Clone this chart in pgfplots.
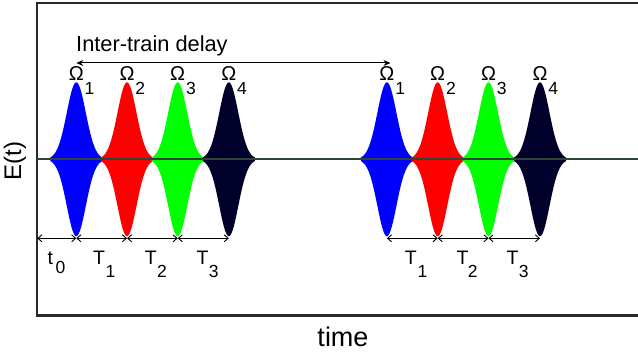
\documentclass[border=0pt]{standalone}
\usepackage{pgfplots}
\pgfplotsset{compat=1.18}
\usepackage{pgfplotstable}
\usepackage{fontspec}
\setmainfont{Liberation Sans}
\usetikzlibrary{arrows.meta}
\definecolor{navyp}{RGB}{0,0,42}
\definecolor{framec}{RGB}{42,42,42}
\definecolor{basec}{RGB}{45,68,55}
\definecolor{greenp}{RGB}{0,255,0}

\pgfplotstableread{
dx A
-26 1.82
-25 2.41
-24 3.16
-23 4.10
-22 5.27
-21 6.69
-20 8.40
-19 10.42
-18 12.79
-17 15.53
-16 18.64
-15 22.14
-14 25.99
-13 30.19
-12 34.67
-11 39.39
-10 44.25
-9 49.16
-8 54.01
-7 58.69
-6 63.08
-5 67.04
-4 70.47
-3 73.26
-2 75.31
-1 76.57
0 77.00
1 76.57
2 75.31
3 73.26
4 70.47
5 67.04
6 63.08
7 58.69
8 54.01
9 49.16
10 44.25
11 39.39
12 34.67
13 30.19
14 25.99
15 22.14
16 18.64
17 15.53
18 12.79
19 10.42
20 8.40
21 6.69
22 5.27
23 4.10
24 3.16
25 2.41
26 1.82
}\pulse

\newcommand{\pulseat}[2]{%
\addplot[fill=#2, draw=none] table[x expr=\thisrow{dx}+#1, y=A]{\pulse} \closedcycle;
\addplot[fill=#2, draw=none] table[x expr=\thisrow{dx}+#1, y expr=-\thisrow{A}]{\pulse} \closedcycle;
}
\newcommand{\omlab}[2]{%
\node[anchor=base, inner sep=0pt, font=\fontsize{20}{20}\selectfont] at (axis cs:#1,78.3) {Ω};
\node[anchor=base west, inner sep=0pt, font=\fontsize{17.5}{17.5}\selectfont] at (axis cs:#1+8.2,64.3) {#2};
}
\newcommand{\tlab}[4]{% x of T, x of sub, letter, digit
\node[anchor=base west, inner sep=0pt, font=\fontsize{19.5}{19.5}\selectfont] at (axis cs:#1,-105.2) {#3};
\node[anchor=base west, inner sep=0pt, font=\fontsize{17.5}{17.5}\selectfont] at (axis cs:#2,-118.7) {#4};
}

\begin{document}
\begin{tikzpicture}
\begin{axis}[
  x=1pt, y=1pt,
  xmin=37.2, xmax=641,
  ymin=-156, ymax=156.3,
  xtick=\empty, ytick=\empty,
  axis line style={framec, line width=2.5pt},
  clip=false,
]
\pulseat{76.3}{blue}
\pulseat{127.0}{red}
\pulseat{177.7}{greenp}
\pulseat{228.8}{navyp}
\pulseat{386.9}{blue}
\pulseat{437.7}{red}
\pulseat{488.5}{greenp}
\pulseat{540.0}{navyp}
\addplot[basec, line width=1.8pt] coordinates {(37.2,0) (641,0)};

\omlab{76.3}{1}
\omlab{127.0}{2}
\omlab{177.7}{3}
\omlab{228.8}{4}
\omlab{386.9}{1}
\omlab{437.7}{2}
\omlab{488.5}{3}
\omlab{540.0}{4}

\draw[{Stealth[length=7pt,width=6pt]}-{Stealth[length=7pt,width=6pt]}, line width=1pt] (axis cs:76.3,96.3) -- (axis cs:390.5,96.3);
\node[anchor=base west, inner sep=0pt, font=\fontsize{21.8}{21.8}\selectfont] at (axis cs:76,108) {Inter-train delay};

\begin{scope}[line width=0.9pt, {Straight Barb[length=4pt,width=7pt]}-{Straight Barb[length=4pt,width=7pt]}]
\draw (axis cs:37.2,-79) -- (axis cs:76.3,-79);
\draw (axis cs:76.3,-79) -- (axis cs:127.0,-79);
\draw (axis cs:127.0,-79) -- (axis cs:177.7,-79);
\draw (axis cs:177.7,-79) -- (axis cs:228.8,-79);
\draw (axis cs:386.9,-79) -- (axis cs:437.7,-79);
\draw (axis cs:437.7,-79) -- (axis cs:488.5,-79);
\draw (axis cs:488.5,-79) -- (axis cs:540.0,-79);
\end{scope}

\node[anchor=base west, inner sep=0pt, font=\fontsize{19.5}{19.5}\selectfont] at (axis cs:47.5,-105.7) {t};
\node[anchor=base west, inner sep=0pt, font=\fontsize{17.5}{17.5}\selectfont] at (axis cs:55.3,-114) {0};
\tlab{93}{105.5}{T}{1}
\tlab{144.7}{157}{T}{2}
\tlab{196.4}{208.6}{T}{3}
\tlab{404.7}{417.5}{T}{1}
\tlab{456.4}{467.6}{T}{2}
\tlab{506.4}{518.6}{T}{3}

\node[rotate=90, anchor=center, inner sep=0pt, font=\fontsize{24}{24}\selectfont] at (axis cs:15,-1.7) {E(t)};
\node[anchor=base, inner sep=0pt, font=\fontsize{27}{27}\selectfont] at (axis cs:343,-187.7) {time};

\coordinate (bbA) at (axis cs:0,159.3);
\coordinate (bbB) at (axis cs:638,-192.7);
\end{axis}
\pgfresetboundingbox
\useasboundingbox (bbA) rectangle (bbB);
\end{tikzpicture}
\end{document}
